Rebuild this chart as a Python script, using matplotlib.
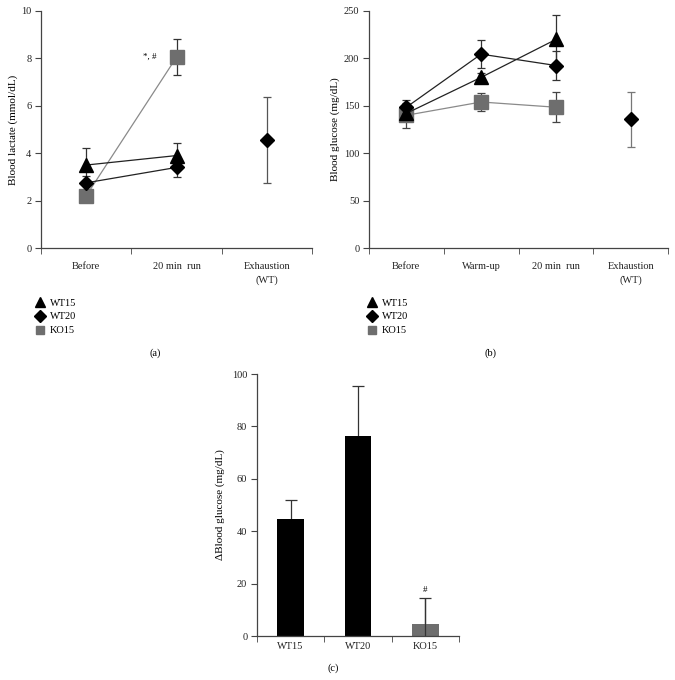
import matplotlib.pyplot as plt
from matplotlib.lines import Line2D

plt.rcParams['font.family'] = ['Liberation Serif', 'DejaVu Serif']

# --- dados (a) lactato ---
cat_a = ['Before', '20 min  run', 'Exhaustion\n(WT)']
lac_wt15 = [3.5, 3.9]
lac_wt15_err = [0.7, 0.55]
lac_wt20 = [2.75, 3.4]
lac_wt20_err = [0.3, 0.4]
lac_ko15 = [2.2, 8.05]
lac_ko15_err = [0.25, 0.75]
lac_exh = 4.55
lac_exh_err = 1.82

# --- dados (b) glicose ---
cat_b = ['Before', 'Warm-up', '20 min  run', 'Exhaustion\n(WT)']
glu_wt15 = [142, 180, 220]
glu_wt15_err = [8, 5, 26]
glu_wt20 = [148.5, 204.5, 192.5]
glu_wt20_err = [8, 15, 15]
glu_ko15 = [140, 154, 148.5]
glu_ko15_err = [13, 9, 16]
glu_exh = 136
glu_exh_err = 29

# --- dados (c) delta glicose ---
grupos = ['WT15', 'WT20', 'KO15']
delta = [44.5, 76.5, 4.5]
delta_err = [7.5, 19, 10]

preto = '#000000'
cinza = '#6e6e6e'
cinza_linha = '#8a8a8a'
eixo = '#444444'

fig = plt.figure(figsize=(6.75, 6.8), dpi=100)


def formatar(ax, cats, ylim, yticks, ylabel, lpad):
    n = len(cats)
    for s in ['top', 'right']:
        ax.spines[s].set_visible(False)
    for s in ['left', 'bottom']:
        ax.spines[s].set_color(eixo)
        ax.spines[s].set_linewidth(0.9)
    ax.set_xlim(-0.5, n - 0.5)
    ax.set_ylim(*ylim)
    ax.set_yticks(yticks)
    ax.set_xticks(range(n))
    ax.set_xticklabels(cats, fontsize=7.5, linespacing=1.6)
    ax.set_xticks([i - 0.5 for i in range(n + 1)], minor=True)
    ax.tick_params(axis='x', which='major', length=0, pad=10)
    ax.tick_params(axis='x', which='minor', length=4, direction='out', color=eixo)
    ax.tick_params(axis='y', length=4, direction='out', color=eixo, labelsize=7.5, pad=3)
    ax.set_ylabel(ylabel, fontsize=8, labelpad=lpad)
    for lab in ax.get_xticklabels() + ax.get_yticklabels():
        lab.set_color('#222222')


def serie(ax, x, y, err, marker, ms, mcolor, lcolor, ecolor):
    ax.errorbar(x, y, yerr=err, fmt='none', ecolor=ecolor, elinewidth=0.9,
                capsize=3, capthick=0.9, zorder=2)
    ax.plot(x, y, color=lcolor, lw=0.9, marker=marker, ms=ms,
            mfc=mcolor, mec=mcolor, zorder=3)


# (a)
ax1 = fig.add_axes([41 / 675, 1 - 248 / 680, 271 / 675, 237 / 680])
formatar(ax1, cat_a, (0, 10), [0, 2, 4, 6, 8, 10], 'Blood lactate (mmol/dL)', 2)
serie(ax1, [0, 1], lac_ko15, lac_ko15_err, 's', 9.5, cinza, cinza_linha, '#333333')
serie(ax1, [0, 1], lac_wt20, lac_wt20_err, 'D', 7, preto, '#222222', '#333333')
serie(ax1, [0, 1], lac_wt15, lac_wt15_err, '^', 10, preto, '#222222', '#333333')
serie(ax1, [2], [lac_exh], [lac_exh_err], 'D', 7, preto, preto, '#555555')
ax1.text(0.78, lac_ko15[1], '*, #', fontsize=6.5, ha='right', va='center')

# (b)
ax2 = fig.add_axes([369 / 675, 1 - 248 / 680, 299 / 675, 237 / 680])
formatar(ax2, cat_b, (0, 250), [0, 50, 100, 150, 200, 250], 'Blood glucose (mg/dL)', 3)
serie(ax2, [0, 1, 2], glu_ko15, glu_ko15_err, 's', 9.5, cinza, cinza_linha, '#444444')
serie(ax2, [0, 1, 2], glu_wt20, glu_wt20_err, 'D', 7, preto, '#222222', '#333333')
serie(ax2, [0, 1, 2], glu_wt15, glu_wt15_err, '^', 10, preto, '#222222', '#333333')
serie(ax2, [3], [glu_exh], [glu_exh_err], 'D', 7, preto, preto, '#777777')

# legendas
handles = [
    Line2D([], [], ls='none', marker='^', ms=7, mfc=preto, mec=preto),
    Line2D([], [], ls='none', marker='D', ms=6, mfc=preto, mec=preto),
    Line2D([], [], ls='none', marker='s', ms=6, mfc=cinza, mec=cinza),
]
nomes = ['WT15', 'WT20', 'KO15']
for x0 in [30 / 675, 362 / 675]:
    fig.legend(handles, nomes, loc='upper left', bbox_to_anchor=(x0, 1 - 293 / 680),
               frameon=False, fontsize=7.5, handlelength=1.0, handletextpad=0.4,
               labelspacing=0.45, borderpad=0)

fig.text(155 / 675, 1 - 353 / 680, '(a)', fontsize=7.5, ha='center', va='center')
fig.text(490 / 675, 1 - 353 / 680, '(b)', fontsize=7.5, ha='center', va='center')

# (c)
ax3 = fig.add_axes([257 / 675, 1 - 636 / 680, 202 / 675, 262 / 680])
formatar(ax3, grupos, (0, 100), [0, 20, 40, 60, 80, 100], '\u0394Blood glucose (mg/dL)', 5)
ax3.tick_params(axis='x', which='major', pad=4)
cores = [preto, preto, cinza]
ax3.bar(range(3), delta, width=0.4, color=cores, zorder=2)
ax3.errorbar(range(3), delta, yerr=[delta, delta_err], fmt='none', ecolor='#333333',
             elinewidth=0.9, capsize=4, capthick=0.9, zorder=1.5)
ax3.errorbar([2], [delta[2]], yerr=[[delta[2]], [delta_err[2]]], fmt='none',
             ecolor='#333333', elinewidth=0.9, capsize=0, zorder=3)
ax3.text(2, delta[2] + delta_err[2] + 1.5, '#', fontsize=6.5, ha='center', va='bottom')

fig.text(333 / 675, 1 - 668 / 680, '(c)', fontsize=7.5, ha='center', va='center')

plt.savefig('out.png', dpi=100)
